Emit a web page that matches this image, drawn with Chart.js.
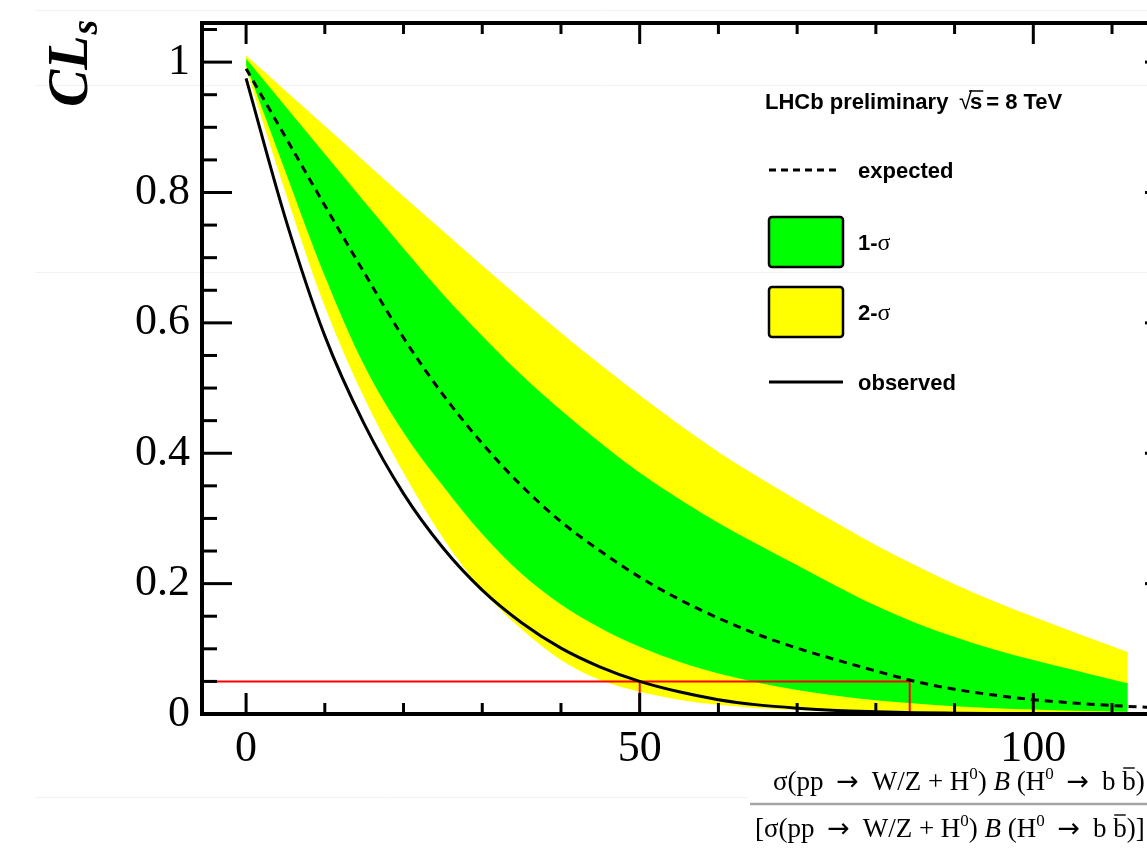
<!DOCTYPE html>
<html>
<head>
<meta charset="utf-8">
<script src="https://cdn.jsdelivr.net/npm/chart.js@4/dist/chart.umd.min.js"></script>
<style>
html,body{margin:0;padding:0;background:#fff;overflow:hidden;width:1147px;height:848px}
canvas{display:block}
</style>
</head>
<body>
<canvas id="c" width="1180" height="848"></canvas>
<script>
// ---- data ----
const bandX        = [0,5,10,15,20,25,30,35,40,45,50,55,60,65,70,75,80,85,90,95,100,105,110,112];
const twoSigmaUp   = [1.01,0.956,0.902,0.848,0.794,0.741,0.688,0.636,0.585,0.536,0.489,0.444,0.402,0.364,0.328,0.293,0.259,0.228,0.199,0.173,0.149,0.126,0.104,0.095];
const oneSigmaUp   = [1.005,0.932,0.859,0.786,0.714,0.644,0.58,0.52,0.466,0.416,0.37,0.33,0.293,0.26,0.228,0.196,0.166,0.14,0.118,0.099,0.083,0.068,0.053,0.047];
const oneSigmaDown = [0.995,0.832,0.672,0.535,0.432,0.35,0.276,0.215,0.168,0.132,0.103,0.08,0.062,0.048,0.037,0.028,0.021,0.016,0.012,0.009,0.007,0.005,0.004,0.0035];
const twoSigmaDown = [0.99,0.80,0.625,0.485,0.37,0.27,0.19,0.13,0.083,0.052,0.034,0.022,0.014,0.009,0.006,0.004,0.003,0.002,0.0015,0.001,0.001,0.001,0.001,0.001];

const curveX   = [0,5,10,15,20,25,30,35,40,45,50,55,60,65,70,75,80,85,90,95,100,105,110,115,117];
const expected = [0.99,0.885,0.78,0.677,0.577,0.49,0.415,0.35,0.295,0.25,0.21,0.176,0.147,0.122,0.101,0.083,0.066,0.05,0.038,0.029,0.022,0.017,0.013,0.01,0.009];
const observed = [0.975,0.76,0.58,0.445,0.338,0.255,0.19,0.14,0.101,0.072,0.05,0.034,0.022,0.014,0.009,0.0055,0.0035,0.002,0.0013,0.0008,0.0005,0.0003,0.0002,0.0001,0.0001];

const clsLevel  = 0.05;   // 95% CL line
const obsLimitX = 50;     // observed limit
const expLimitX = 84.3;   // expected limit

const yTickValues = [0,0.2,0.4,0.6,0.8,1];
const yTickLabels = ['0','0.2','0.4','0.6','0.8','1'];
const xTickValues = [0,50,100];
const xTickLabels = ['0','50','100'];
const yMinorStep = 0.05, xMinorStep = 10;

const X_MIN = -5.6, X_MAX = 118, Y_MIN = 0, Y_MAX = 1.06;

const pts = (xs, ys) => xs.map((x, i) => ({x: x, y: ys[i]}));
const limitPts = [
  {x: X_MIN, y: clsLevel}, {x: expLimitX, y: clsLevel}, {x: expLimitX, y: 0},
  {x: expLimitX, y: null},
  {x: obsLimitX, y: clsLevel}, {x: obsLimitX, y: 0}
];

const SERIF = '"Liberation Serif","Times New Roman",serif';
const SANS = '"Liberation Sans",Arial,Helvetica,sans-serif';
const ARROWF = '"DejaVu Sans",sans-serif';

function drawRuns(ctx, x, y, runs) {
  for (const r of runs) {
    ctx.font = r.f;
    x += (r.pre || 0);
    const w = ctx.measureText(r.t).width;
    ctx.fillText(r.t, x, y + (r.dy || 0));
    if (r.bar) {
      ctx.save();
      ctx.lineWidth = 1.4;
      ctx.beginPath();
      ctx.moveTo(x + 1, y - r.bar); ctx.lineTo(x + w - 1, y - r.bar);
      ctx.stroke();
      ctx.restore();
    }
    x += w + (r.gap || 0);
  }
  return x;
}

const rootFrame = {
  id: 'rootFrame',
  beforeDraw(chart) {
    const ctx = chart.ctx;
    ctx.save();
    ctx.fillStyle = '#fff';
    ctx.fillRect(0, 0, chart.width, chart.height);
    ctx.strokeStyle = '#f2f2f2';
    ctx.lineWidth = 1;
    [[10,35,1180],[85,35,1180],[272,35,1180],[797,35,748]].forEach(l => {
      ctx.beginPath(); ctx.moveTo(l[1], l[0] + 0.5); ctx.lineTo(l[2], l[0] + 0.5); ctx.stroke();
    });
    ctx.restore();
  },
  afterDatasetsDraw(chart) {
    const ctx = chart.ctx, a = chart.chartArea, xs = chart.scales.x, ys = chart.scales.y;
    ctx.save();
    ctx.strokeStyle = '#000';
    ctx.lineCap = 'butt';
    ctx.lineWidth = 3;
    const isMajorY = v => yTickValues.some(t => Math.abs(t - v) < 1e-6);
    for (let v = 0; v <= Y_MAX + 1e-9; v = Math.round((v + yMinorStep) * 1000) / 1000) {
      const py = ys.getPixelForValue(v);
      const len = isMajorY(v) ? 30 : 15;
      ctx.beginPath(); ctx.moveTo(a.left, py); ctx.lineTo(a.left + len, py); ctx.stroke();
      ctx.beginPath(); ctx.moveTo(a.right, py); ctx.lineTo(a.right - len, py); ctx.stroke();
    }
    const isMajorX = v => xTickValues.includes(v);
    for (let v = 0; v <= X_MAX; v += xMinorStep) {
      const px = xs.getPixelForValue(v);
      const len = isMajorX(v) ? 21 : 11;
      ctx.beginPath(); ctx.moveTo(px, a.bottom); ctx.lineTo(px, a.bottom - len); ctx.stroke();
      ctx.beginPath(); ctx.moveTo(px, a.top); ctx.lineTo(px, a.top + len); ctx.stroke();
    }
    ctx.lineWidth = 4;
    ctx.beginPath();
    ctx.moveTo(a.left, a.top); ctx.lineTo(a.right, a.top); ctx.lineTo(a.right, a.bottom);
    ctx.lineTo(a.left, a.bottom); ctx.closePath(); ctx.stroke();
    ctx.restore();
  },
  afterDraw(chart) {
    const ctx = chart.ctx;
    ctx.save();
    ctx.fillStyle = '#000';
    ctx.strokeStyle = '#000';
    ctx.textBaseline = 'alphabetic';
    ctx.textAlign = 'left';

    // Y title  CL_s
    ctx.save();
    ctx.translate(87, 107);
    ctx.rotate(-Math.PI / 2);
    ctx.font = 'italic bold 56px ' + SERIF;
    ctx.fillText('CL', 0, 0);
    const wcl = ctx.measureText('CL').width;
    ctx.font = 'italic bold 38px ' + SERIF;
    ctx.fillText('s', wcl + 1, 10);
    ctx.restore();

    // header
    ctx.font = 'bold 22px ' + SANS;
    ctx.fillText('LHCb preliminary', 765, 109);
    ctx.font = '24px ' + SANS;
    ctx.fillText('\u221A', 959, 109);
    ctx.font = 'bold 22px ' + SANS;
    const sx = 970;
    ctx.fillText('s', sx, 109);
    const sw = ctx.measureText('s').width;
    ctx.lineWidth = 1.5;
    ctx.beginPath(); ctx.moveTo(sx - 1, 91); ctx.lineTo(sx + sw + 1, 91); ctx.stroke();
    ctx.fillText('= 8 TeV', sx + sw + 4, 109);

    // legend entries
    const lx0 = 769, lx1 = 843, tx = 858;
    ctx.lineWidth = 3;
    ctx.setLineDash([7, 5]);
    ctx.beginPath(); ctx.moveTo(lx0, 170); ctx.lineTo(lx1 - 3, 170); ctx.stroke();
    ctx.setLineDash([]);
    ctx.font = 'bold 22px ' + SANS;
    ctx.fillText('expected', tx, 178);

    const box = (y, col) => {
      ctx.fillStyle = col;
      ctx.beginPath(); ctx.roundRect(lx0, y, lx1 - lx0, 50, 3); ctx.fill();
      ctx.lineWidth = 2.5; ctx.strokeStyle = '#000'; ctx.stroke();
      ctx.fillStyle = '#000';
    };
    box(217, '#00ff00');
    box(287, '#ffff00');
    const sig = (n, y) => {
      drawRuns(ctx, tx, y, [{t: n + '-', f: 'bold 22px ' + SANS}, {t: '\u03C3', f: '24px ' + SERIF}]);
    };
    sig('1', 250);
    sig('2', 320);

    ctx.lineWidth = 3;
    ctx.beginPath(); ctx.moveTo(lx0, 382); ctx.lineTo(lx1, 382); ctx.stroke();
    ctx.font = 'bold 22px ' + SANS;
    ctx.fillText('observed', tx, 390);

    // X title (fraction)
    const mk = (size) => {
      const F = size + 'px ' + SERIF, FI = 'italic ' + size + 'px ' + SERIF, FS = Math.round(size * 0.62) + 'px ' + SERIF;
      const FA = size + 'px ' + ARROWF;
      const up = -Math.round(size * 0.42);
      return [
        {t: '\u03C3(pp ', f: F}, {t: '\u2192', f: FA, pre: 6, gap: 6}, {t: ' W/Z + H', f: F}, {t: '0', f: FS, dy: up}, {t: ') ', f: F},
        {t: 'B', f: FI}, {t: ' (H', f: F}, {t: '0', f: FS, dy: up}, {t: ' ', f: F}, {t: '\u2192', f: FA, pre: 6, gap: 6}, {t: ' b ', f: F},
        {t: 'b', f: F, bar: Math.round(size * 0.8)}, {t: ')', f: F}
      ];
    };
    drawRuns(ctx, 773, 790, mk(27));
    const den = [{t: '[', f: '27px ' + SERIF}].concat(mk(27)).concat([{t: ']', f: '27px ' + SERIF}]);
    drawRuns(ctx, 755, 837, den);
    ctx.strokeStyle = '#a6a6a6';
    ctx.lineWidth = 2.5;
    ctx.beginPath(); ctx.moveTo(750, 804); ctx.lineTo(1180, 804); ctx.stroke();
    ctx.restore();
  }
};

const noLine = 'rgba(0,0,0,0)';
new Chart(document.getElementById('c'), {
  type: 'line',
  data: {
    datasets: [
      {label: '2-\u03C3', data: pts(bandX, twoSigmaUp), borderColor: noLine, borderWidth: 0, pointRadius: 0,
       backgroundColor: '#ffff00', fill: 1, order: 6, cubicInterpolationMode: 'monotone'},
      {label: '2-\u03C3 lower', data: pts(bandX, twoSigmaDown), borderColor: noLine, borderWidth: 0, pointRadius: 0,
       fill: false, order: 6, cubicInterpolationMode: 'monotone'},
      {label: '1-\u03C3', data: pts(bandX, oneSigmaUp), borderColor: noLine, borderWidth: 0, pointRadius: 0,
       backgroundColor: '#00ff00', fill: 3, order: 5, cubicInterpolationMode: 'monotone'},
      {label: '1-\u03C3 lower', data: pts(bandX, oneSigmaDown), borderColor: noLine, borderWidth: 0, pointRadius: 0,
       fill: false, order: 5, cubicInterpolationMode: 'monotone'},
      {label: 'limit', data: limitPts, borderColor: '#ff0000', borderWidth: 2, pointRadius: 0, fill: false,
       tension: 0, spanGaps: false, order: 3},
      {label: 'expected', data: pts(curveX, expected), borderColor: '#000', borderWidth: 3, borderDash: [8, 6],
       pointRadius: 0, fill: false, order: 2, cubicInterpolationMode: 'monotone'},
      {label: 'observed', data: pts(curveX, observed), borderColor: '#000', borderWidth: 3,
       pointRadius: 0, fill: false, order: 1, cubicInterpolationMode: 'monotone'}
    ]
  },
  options: {
    responsive: false,
    animation: false,
    devicePixelRatio: 1,
    layout: {padding: {top: 23, right: 5, left: 0, bottom: 0}},
    plugins: {legend: {display: false}, tooltip: {enabled: false}, title: {display: false}},
    scales: {
      x: {
        type: 'linear', min: X_MIN, max: X_MAX,
        grid: {display: false, drawTicks: false},
        border: {display: false},
        afterBuildTicks: s => { s.ticks = xTickValues.map(v => ({value: v})); },
        afterFit: s => { s.height = 134; s.paddingLeft = 0; s.paddingRight = 0; },
        ticks: {
          callback: (v) => xTickLabels[xTickValues.indexOf(v)] ?? '',
          font: {family: SERIF, size: 44}, color: '#000', padding: 9, maxRotation: 0, autoSkip: false
        }
      },
      y: {
        type: 'linear', min: Y_MIN, max: Y_MAX,
        grid: {display: false, drawTicks: false},
        border: {display: false},
        afterBuildTicks: s => { s.ticks = yTickValues.map(v => ({value: v})); },
        afterFit: s => { s.width = 202; s.paddingTop = 0; s.paddingBottom = 0; },
        ticks: {
          callback: (v) => yTickLabels[yTickValues.indexOf(v)] ?? '',
          font: {family: SERIF, size: 44}, color: '#000', padding: 12, autoSkip: false
        }
      }
    }
  },
  plugins: [rootFrame]
});
</script>
</body>
</html>
